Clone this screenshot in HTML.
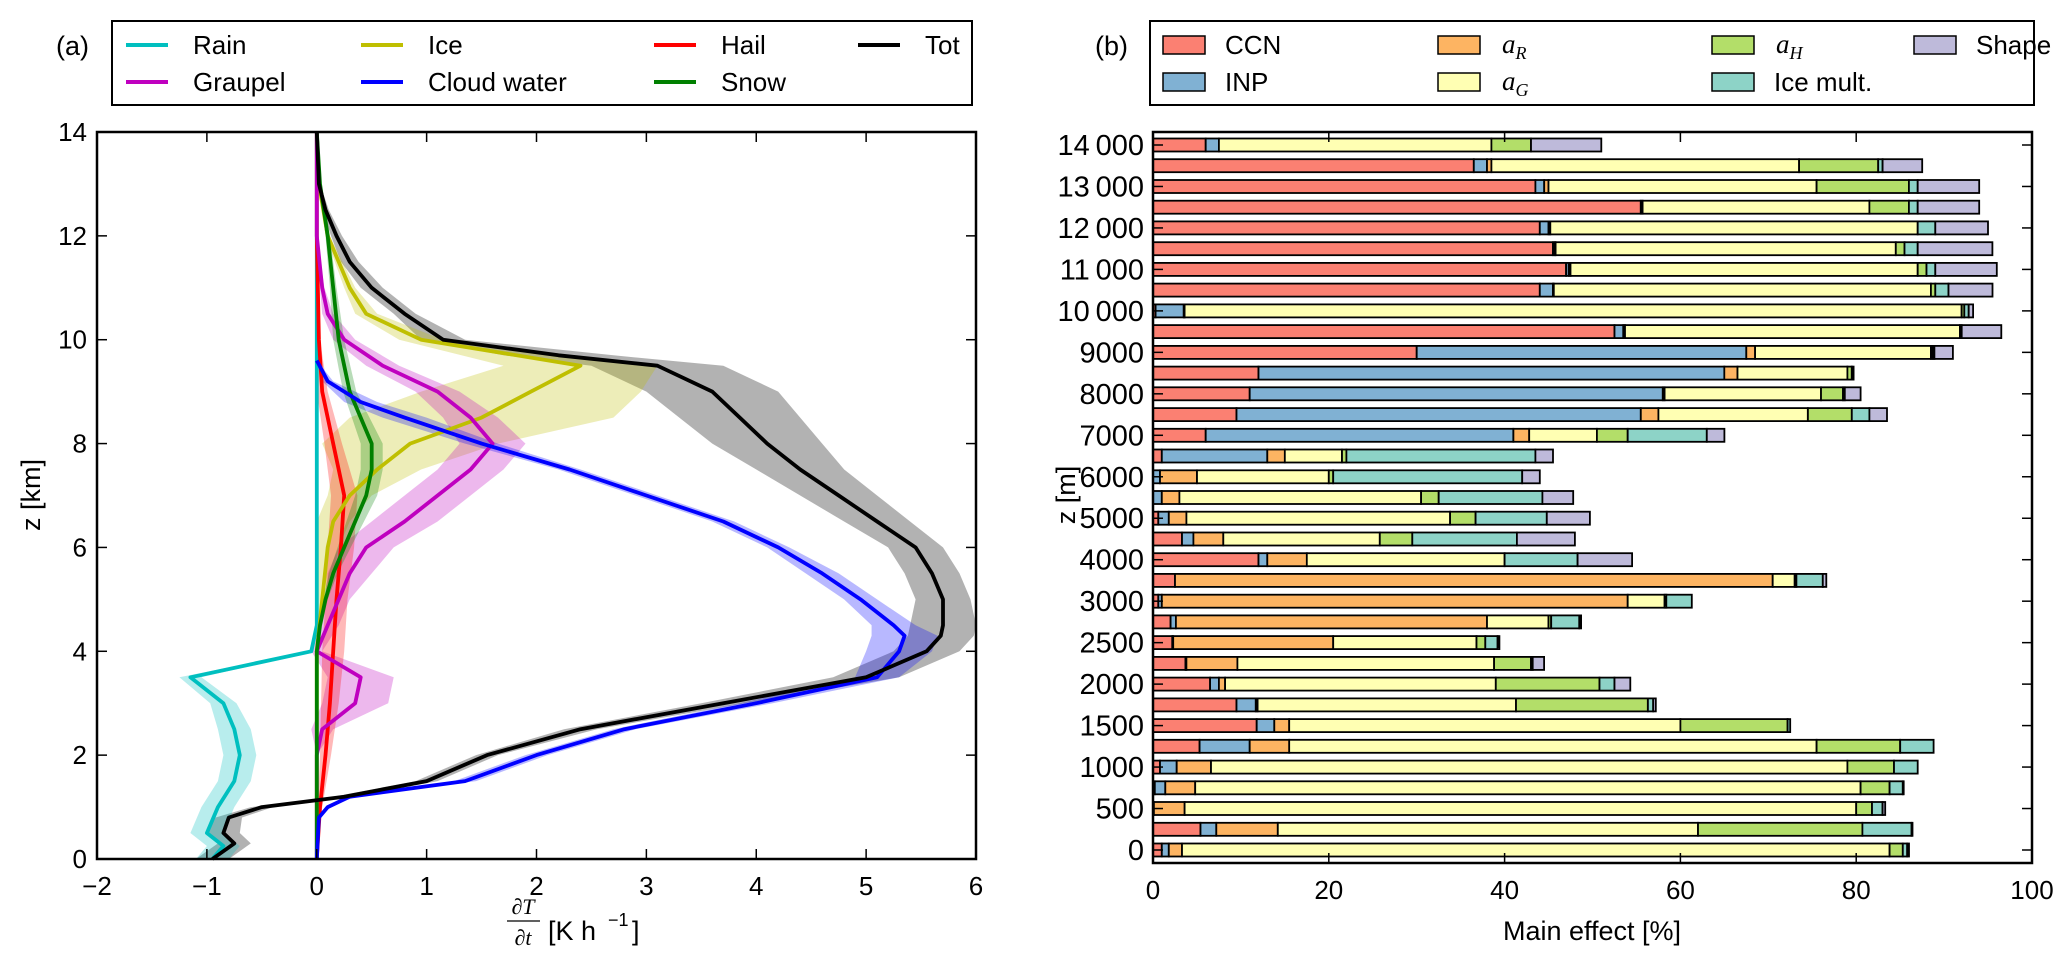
<!DOCTYPE html>
<html><head><meta charset="utf-8"><style>
html,body{margin:0;padding:0;background:#fff;}
svg{display:block;font-family:"Liberation Sans",Arial,sans-serif;}
</style></head><body>
<svg id="fig" width="2067" height="969" viewBox="0 0 2067 969" xmlns="http://www.w3.org/2000/svg">
<g id="pa"></g>
<g id="pb"></g>
</svg>
<script>
// ---------- Panel (a) data ----------
const rainZ = [14,4.5,4.0,3.5,3.0,2.5,2.0,1.5,1.0,0.5,0.25,0];
const rainV = [0,0,-0.05,-1.15,-0.85,-0.75,-0.7,-0.75,-0.9,-1.0,-0.85,-0.95];
const rainS = [0,0,0.02,0.1,0.12,0.15,0.15,0.15,0.15,0.15,0.15,0.15];
const iceZ = [14,13,12,11,10.5,10,9.5,9,8.5,8,7.5,7,6.5,6,5,4,0];
const iceV = [0,0.02,0.1,0.3,0.45,0.95,2.4,1.95,1.5,0.85,0.55,0.3,0.15,0.1,0.05,0,0];
const iceS = [0,0,0.02,0.05,0.1,0.2,0.7,1.0,1.2,0.8,0.4,0.2,0.15,0.1,0.05,0,0];
const graupZ = [14,12,11,10.5,10,9.5,9,8.5,8,7.5,7,6.5,6,5.5,5,4.5,4,3.5,3,2.5,2,0];
const graupV = [0,0,0.05,0.1,0.25,0.6,1.1,1.4,1.6,1.4,1.1,0.8,0.45,0.3,0.2,0.1,0,0.4,0.35,0.05,0,0];
const graupS = [0,0,0.02,0.05,0.1,0.15,0.2,0.25,0.3,0.3,0.3,0.3,0.25,0.2,0.1,0.1,0.05,0.3,0.3,0.1,0,0];
const cloudZ = [9.6,9.2,8.8,8.5,8,7.5,7,6.5,6,5.5,5,4.5,4.3,4,3.5,3,2.5,2,1.5,1.2,1.0,0.8,0];
const cloudV = [0,0.1,0.4,0.8,1.5,2.3,3.0,3.7,4.2,4.6,4.95,5.25,5.35,5.3,5.1,4.0,2.8,2.0,1.35,0.3,0.1,0.02,0];
const cloudS = [0,0.05,0.15,0.2,0.15,0.1,0.1,0.1,0.1,0.15,0.15,0.2,0.3,0.3,0.2,0.15,0.1,0.1,0.1,0.05,0.02,0,0];
const hailZ = [14,12,10,9,8,7.5,7,6,5,4,3,2,1,0];
const hailV = [0,0,0.02,0.05,0.15,0.2,0.25,0.22,0.18,0.15,0.12,0.08,0.03,0];
const hailS = [0,0,0.01,0.05,0.08,0.1,0.12,0.12,0.1,0.1,0.08,0.05,0.02,0];
const snowZ = [14,13,12,11,10,9,8.5,8,7.5,7,6.5,6,5.5,5,4.5,4,0];
const snowV = [0,0.03,0.1,0.15,0.2,0.3,0.4,0.5,0.5,0.45,0.35,0.25,0.15,0.08,0.03,0,0];
const snowS = [0,0.01,0.02,0.03,0.05,0.06,0.08,0.1,0.1,0.1,0.08,0.06,0.04,0.02,0.01,0,0];
const totZ = [14,13,12.5,12,11.5,11,10.5,10,9.7,9.5,9,8.5,8,7.5,7,6.5,6,5.5,5,4.5,4.3,4,3.5,3,2.5,2,1.5,1.2,1.0,0.8,0.5,0.3,0];
const totV = [0,0.02,0.08,0.18,0.3,0.5,0.8,1.15,2.2,3.1,3.6,3.85,4.1,4.4,4.75,5.1,5.45,5.6,5.7,5.7,5.68,5.55,5.0,3.7,2.4,1.55,1.0,0.25,-0.5,-0.8,-0.85,-0.75,-0.95];
const totS = [0,0.01,0.03,0.05,0.08,0.1,0.1,0.2,0.5,0.6,0.6,0.55,0.5,0.4,0.35,0.3,0.25,0.25,0.25,0.3,0.3,0.3,0.3,0.2,0.15,0.1,0.1,0.1,0.1,0.12,0.15,0.15,0.15];
const aXTicks = [-2,-1,0,1,2,3,4,5,6];
const aXTickLabels = ["\u22122","\u22121","0","1","2","3","4","5","6"];
const aYTicks = [0,2,4,6,8,10,12,14];

// ---------- Panel (b) data ----------
const bCats = [14000,13500,13000,12500,12000,11500,11000,10500,10000,9500,9000,8500,8000,7500,7000,6500,6000,5500,5000,4500,4000,3500,3000,2750,2500,2250,2000,1750,1500,1250,1000,750,500,250,0];
const bCCN = [6,36.5,43.5,55.5,44,45.5,47,44,0.3,52.5,30,12,11,9.5,6,1,0,0,0.6,3.3,12,2.5,0.6,2,2.2,3.7,6.5,9.5,11.8,5.3,0.8,0.2,0,5.4,1];
const bINP = [1.5,1.5,1,0,1,0.2,0.3,1.5,3.2,1,37.5,53,47,46,35,12,0.8,1,1.2,1.3,1,0,0.4,0.6,0.1,0.1,1,2.2,2,5.7,1.9,1.2,0.1,1.8,0.8];
const bAR = [0,0.5,0.5,0.2,0.2,0.1,0.2,0.1,0.1,0.2,1,1.5,0.2,2,1.8,2,4.2,2,2,3.4,4.5,68,53,35.4,18.2,5.8,0.7,0.2,1.7,4.5,3.9,3.4,3.5,7,1.5];
const bAG = [31,35,30.5,25.8,41.8,38.7,39.5,42.9,88.4,38.1,20,12.5,17.8,17,7.7,6.5,15,27.5,30,17.8,22.5,2.5,4.2,7,16.3,29.2,30.8,29.4,44.5,60,72.4,75.7,76.4,47.8,80.5];
const bAH = [4.5,9,10.5,4.5,0,1,1,0.5,0.3,0.2,0.2,0.5,2.5,5,3.5,0.5,0.5,2,2.9,3.7,0,0.2,0.2,0.3,1,4.2,11.8,15,12.2,9.5,5.3,3.3,1.8,18.7,1.5];
const bIce = [0,0.5,1,1,2,1.5,1,1.5,0.5,0,0.2,0.2,0.2,2,9,21.5,21.5,11.8,8.1,11.9,8.3,3,2.9,3.2,1.4,0.2,1.7,0.6,0.3,3.8,2.7,1.5,1.2,5.6,0.5];
const bShape = [8,4.5,7,7,6,8.5,7,5,0.5,4.5,2.1,0,1.8,2,2,2,2,3.5,4.9,6.6,6.2,0.4,0,0.2,0.2,1.3,1.8,0.3,0,0,0,0.1,0.3,0.1,0.2];
const bXTicks = [0,20,40,60,80,100];

const NS = "http://www.w3.org/2000/svg";
function mk(parent, tag, attrs, text){
  const e = document.createElementNS(NS, tag);
  for (const k in attrs) e.setAttribute(k, attrs[k]);
  if (text !== undefined) e.textContent = text;
  parent.appendChild(e);
  return e;
}

// ---------- Panel (a) ----------
const pa = document.getElementById('pa');
const AL=97, AR=976, AT=132, AB=859;
const ax = v => AL + (v + 2) * (AR - AL) / 8;
const ay = z => AB - z * (AB - AT) / 14;

const series = [
  {n:'rain', z:rainZ, v:rainV, s:rainS, c:'#00bfbf'},
  {n:'ice', z:iceZ, v:iceV, s:iceS, c:'#bfbf00'},
  {n:'graupel', z:graupZ, v:graupV, s:graupS, c:'#bf00bf'},
  {n:'cloud-water', z:cloudZ, v:cloudV, s:cloudS, c:'#0000ff'},
  {n:'hail', z:hailZ, v:hailV, s:hailS, c:'#ff0000'},
  {n:'snow', z:snowZ, v:snowV, s:snowS, c:'#008000'},
  {n:'tot', z:totZ, v:totV, s:totS, c:'#000000'}
];
const bandOrder = ['tot','ice','graupel','cloud-water','hail','snow','rain'];
bandOrder.forEach(nm => {
  const s = series.find(q => q.n === nm);
  let pts = s.z.map((z,i)=>ax(s.v[i]+s.s[i]).toFixed(1)+','+ay(z).toFixed(1));
  let back = s.z.map((z,i)=>ax(s.v[i]-s.s[i]).toFixed(1)+','+ay(z).toFixed(1)).reverse();
  const p = mk(pa,'polygon',{points:pts.concat(back).join(' '),fill:s.c,'fill-opacity':nm==='tot'?0.3:0.28,stroke:'none'});
  
  
});
['rain','hail','ice','graupel','snow','cloud-water','tot'].forEach(nm => {
  const s = series.find(q => q.n === nm);
  const pts = s.z.map((z,i)=>ax(s.v[i]).toFixed(1)+','+ay(z).toFixed(1)).join(' ');
  const l = mk(pa,'polyline',{points:pts,fill:'none',stroke:s.c,'stroke-width':3.8,'stroke-linejoin':'round'});
  
  
});
const aFrame = mk(pa,'rect',{x:AL,y:AT,width:AR-AL,height:AB-AT,fill:'none',stroke:'#000','stroke-width':2.5});


aXTicks.forEach((t,i)=>{
  const x = ax(t);
  mk(pa,'line',{x1:x,y1:AB,x2:x,y2:AB-10,stroke:'#000','stroke-width':1.5});
  mk(pa,'line',{x1:x,y1:AT,x2:x,y2:AT+10,stroke:'#000','stroke-width':1.5});
  const tl = mk(pa,'text',{x:x,y:AB+36,'font-size':26,'text-anchor':'middle'},aXTickLabels[i]);
  
  
});
aYTicks.forEach(t=>{
  const y = ay(t);
  mk(pa,'line',{x1:AL,y1:y,x2:AL+10,y2:y,stroke:'#000','stroke-width':1.5});
  mk(pa,'line',{x1:AR,y1:y,x2:AR-10,y2:y,stroke:'#000','stroke-width':1.5});
  const tl = mk(pa,'text',{x:AL-10,y:y+9,'font-size':26,'text-anchor':'end'},String(t));
  
  
});
</script>
<script>
(function(){
  const pa = document.getElementById('pa');
  const g = document.createElementNS(NS,'g');
  pa.appendChild(g);
  g.innerHTML =
   '<text x="0" y="0" font-size="27" text-anchor="middle" transform="translate(40,495) rotate(-90)">z [km]</text>'+
   '<g font-size="27">'+
     '<text x="523" y="914" font-size="22" font-family="Liberation Serif,serif" font-style="italic" text-anchor="middle">∂T</text>'+
     '<line x1="507" y1="921" x2="540" y2="921" stroke="#000" stroke-width="1.3"/>'+
     '<text x="523" y="945" font-size="22" font-family="Liberation Serif,serif" font-style="italic" text-anchor="middle">∂t</text>'+
     '<text x="548" y="940">[K h</text><text x="608" y="926" font-size="18">−1</text><text x="632" y="940">]</text>'+
   '</g>'+
   '<text x="56" y="55" font-size="27">(a)</text>'+
   '<rect x="112" y="21" width="860" height="84" fill="#fff" stroke="#000" stroke-width="2"/>';
  const items = [
    ['Rain','#00bfbf',126,45],['Ice','#bfbf00',361,45],['Hail','#ff0000',654,45],['Tot','#000000',858,45],
    ['Graupel','#bf00bf',126,82],['Cloud water','#0000ff',361,82],['Snow','#008000',654,82]];
  items.forEach(it=>{
    const e = document.createElementNS(NS,'g');
    
    
    e.innerHTML = '<line x1="'+it[2]+'" y1="'+it[3]+'" x2="'+(it[2]+42)+'" y2="'+it[3]+'" stroke="'+it[1]+'" stroke-width="4"/>'+
      '<text x="'+(it[2]+67)+'" y="'+(it[3]+9)+'" font-size="26">'+it[0]+'</text>';
    g.appendChild(e);
  });
})();
</script>
<script>
(function(){
  const pb = document.getElementById('pb');
  const BL=1153, BR=2032, BT=132, BB=863;
  const bx = p => BL + p * (BR - BL) / 100;
  const rowY = i => 145 + i * (850 - 145) / (bCats.length - 1);
  const BH = 13;
  const segs = [
    {n:'ccn', d:bCCN, c:'#fb8072'},
    {n:'inp', d:bINP, c:'#80b1d3'},
    {n:'a-r', d:bAR, c:'#fdb462'},
    {n:'a-g', d:bAG, c:'#ffffb3'},
    {n:'a-h', d:bAH, c:'#b3de69'},
    {n:'ice-mult', d:bIce, c:'#8dd3c7'},
    {n:'shape', d:bShape, c:'#bebada'}
  ];
  bCats.forEach((cat,i)=>{
    let acc = 0;
    const yc = rowY(i);
    segs.forEach(s=>{
      const v = s.d[i];
      const r = mk(pb,'rect',{x:bx(acc).toFixed(1),y:(yc-BH/2).toFixed(1),width:Math.max(0,bx(acc+v)-bx(acc)).toFixed(1),height:BH,fill:s.c,stroke:'#000','stroke-width':1.8});
      
      
      acc += v;
    });
  });
  const fr = mk(pb,'rect',{x:BL,y:BT,width:BR-BL,height:BB-BT,fill:'none',stroke:'#000','stroke-width':2.5});
  
  
  bXTicks.forEach(t=>{
    const x = bx(t);
    mk(pb,'line',{x1:x,y1:BB,x2:x,y2:BB-10,stroke:'#000','stroke-width':1.5});
    mk(pb,'line',{x1:x,y1:BT,x2:x,y2:BT+10,stroke:'#000','stroke-width':1.5});
    const tl = mk(pb,'text',{x:x,y:BB+36,'font-size':26,'text-anchor':'middle'},String(t));
    
    
  });
  bCats.forEach((cat,i)=>{
    if (i % 2) return;
    const y = rowY(i);
    mk(pb,'line',{x1:BL,y1:y,x2:BL+10,y2:y,stroke:'#000','stroke-width':1.5});
    mk(pb,'line',{x1:BR,y1:y,x2:BR-10,y2:y,stroke:'#000','stroke-width':1.5});
    const lab = cat >= 10000 ? Math.floor(cat/1000) + '\u2009' + String(cat%1000).padStart(3,'0') : String(cat);
    const tl = mk(pb,'text',{x:BL-9,y:y+10,'font-size':29,'text-anchor':'end'},lab);
    
    
  });
  const g = document.createElementNS(NS,'g');
  pb.appendChild(g);
  g.innerHTML =
   '<text x="0" y="0" font-size="27" text-anchor="middle" transform="translate(1075,495) rotate(-90)">z [m]</text>'+
   '<text x="1592" y="940" font-size="27" text-anchor="middle">Main effect [%]</text>'+
   '<text x="1095" y="55" font-size="27">(b)</text>'+
   '<rect x="1150" y="21" width="884" height="84" fill="#fff" stroke="#000" stroke-width="2"/>';
  const items = [
    ['CCN','#fb8072',1163,45,false],['a','#fdb462',1438,45,'R'],['a','#b3de69',1712,45,'H'],['Shape','#bebada',1914,45,false],
    ['INP','#80b1d3',1163,82,false],['a','#ffffb3',1438,82,'G'],['Ice mult.','#8dd3c7',1712,82,false]];
  items.forEach(it=>{
    const e = document.createElementNS(NS,'g');
    
    
    let txt = it[4] ? '<text x="'+(it[2]+64)+'" y="'+(it[3]+8)+'" font-size="27" font-family="Liberation Serif,serif" font-style="italic">a<tspan font-size="18" dy="6">'+it[4]+'</tspan></text>'
                    : '<text x="'+(it[2]+62)+'" y="'+(it[3]+9)+'" font-size="26">'+it[0]+'</text>';
    e.innerHTML = '<rect x="'+it[2]+'" y="'+(it[3]-9)+'" width="42" height="18" fill="'+it[1]+'" stroke="#000" stroke-width="1.5"/>'+txt;
    g.appendChild(e);
  });
})();
</script>
</body></html>
